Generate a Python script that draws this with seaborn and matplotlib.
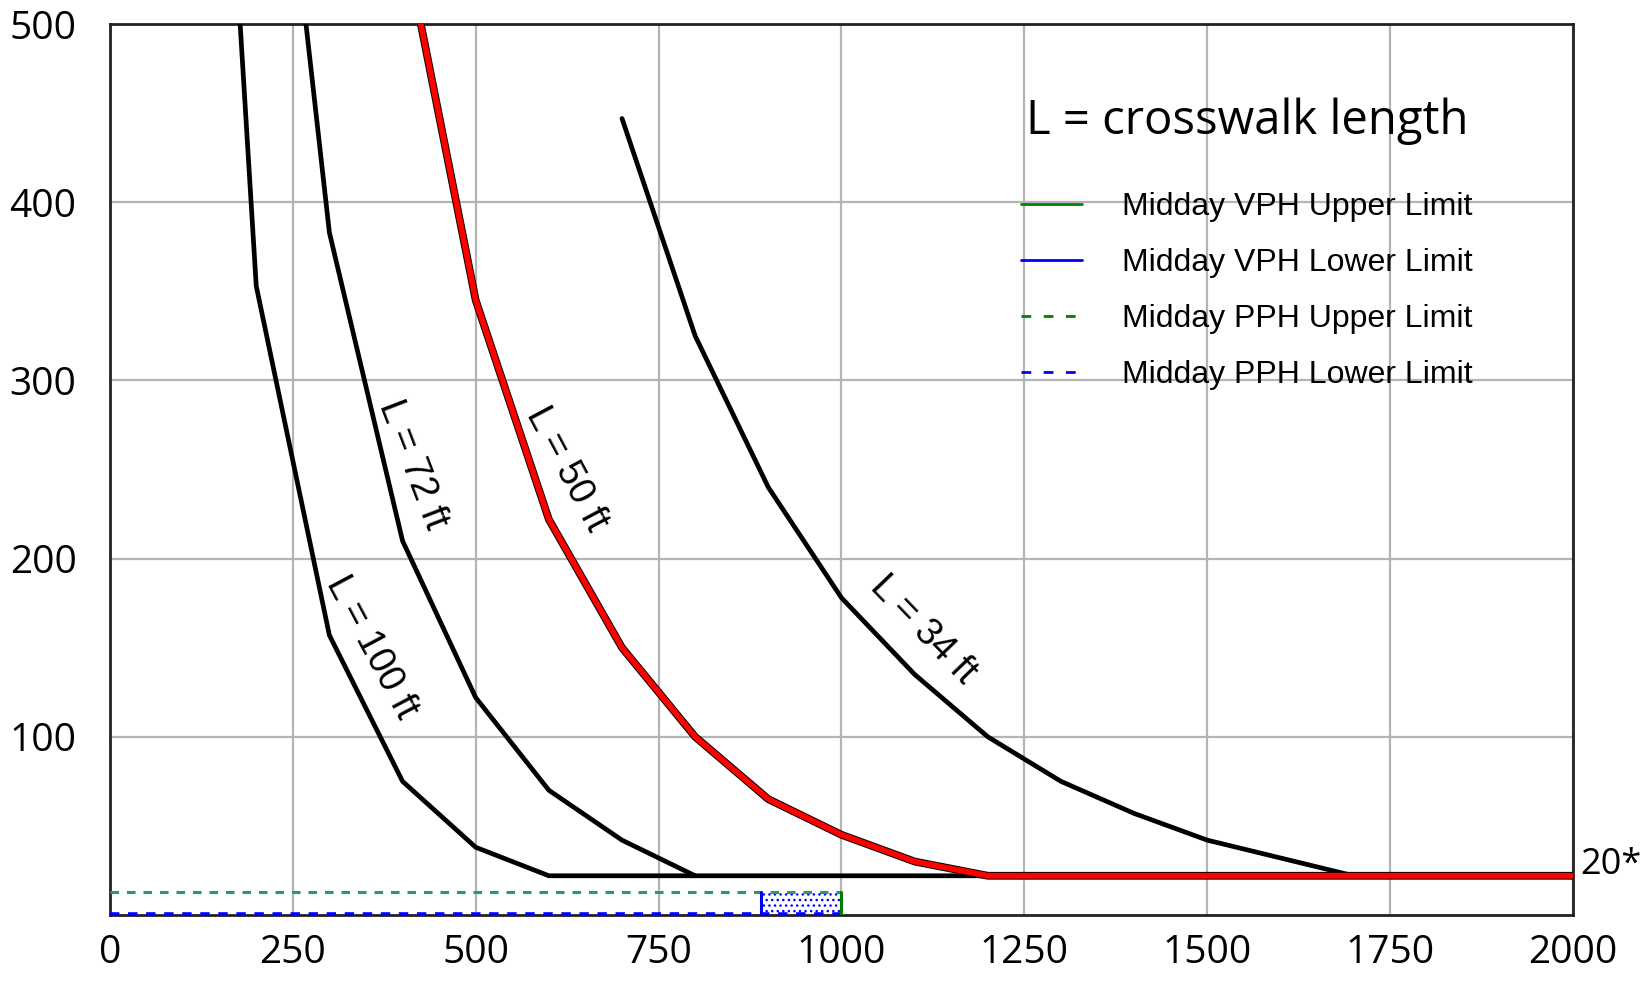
import numpy as np
import pandas as pd
import matplotlib
matplotlib.use("Agg")
import matplotlib.pyplot as plt
from matplotlib.lines import Line2D
import seaborn as sns

# curve data (pedestrians per hour vs vehicles per hour)
x_34 = [700, 800, 900, 1000, 1100, 1200, 1300, 1400, 1500, 1600, 1700, 2000]
y_34 = [447, 325, 240, 178, 135, 100, 75, 57, 42, 32, 22, 22]
x_50 = [425, 500, 600, 700, 800, 900, 1000, 1100, 1200, 2000]
y_50 = [500, 345, 222, 150, 100, 65, 45, 30, 22, 22]
x_72 = [268, 300, 400, 500, 600, 700, 800]
y_72 = [500, 383, 210, 122, 70, 42, 22]
x_100 = [178, 200, 300, 400, 500, 600, 2000]
y_100 = [500, 353, 157, 75, 38, 22, 22]

# midday limits
vph_lower = 890
vph_upper = 1000
pph_lower = 0
pph_upper = 13

curve_names = ["L = 34 ft", "L = 50 ft", "L = 72 ft", "L = 100 ft"]
legend_labels = ["Midday VPH Upper Limit", "Midday VPH Lower Limit",
                 "Midday PPH Upper Limit", "Midday PPH Lower Limit"]
x_ticks = [0, 250, 500, 750, 1000, 1250, 1500, 1750, 2000]
y_ticks = [100, 200, 300, 400, 500]

df = pd.concat([
    pd.DataFrame({"vph": x_34, "pph": y_34, "curve": curve_names[0]}),
    pd.DataFrame({"vph": x_50, "pph": y_50, "curve": curve_names[1]}),
    pd.DataFrame({"vph": x_72, "pph": y_72, "curve": curve_names[2]}),
    pd.DataFrame({"vph": x_100, "pph": y_100, "curve": curve_names[3]}),
])

sns.set_style("white")
plt.rcParams['font.family'] = ['Liberation Sans', 'DejaVu Sans']
plt.rcParams['text.color'] = 'black'
plt.rcParams['xtick.color'] = 'black'
plt.rcParams['ytick.color'] = 'black'

fig = plt.figure(figsize=(16.48, 9.81), dpi=100)
ax = fig.add_axes([0.0667, 0.0673, 0.8878, 0.9082])

ax.grid(True, color='#b4b4b4', lw=1.6)
ax.set_axisbelow(True)

# black curves
for name in ["L = 100 ft", "L = 72 ft", "L = 34 ft"]:
    sns.lineplot(data=df[df.curve == name], x="vph", y="pph", sort=False,
                 estimator=None, color='black', lw=3.4, ax=ax, zorder=3)
# red curve with black outline
sub = df[df.curve == "L = 50 ft"]
sns.lineplot(data=sub, x="vph", y="pph", sort=False, estimator=None,
             color='black', lw=5.6, ax=ax, zorder=4)
sns.lineplot(data=sub, x="vph", y="pph", sort=False, estimator=None,
             color='#ff0000', lw=4.2, ax=ax, zorder=5)

# midday limits
ax.fill_between([vph_lower, vph_upper], pph_lower, pph_upper, facecolor='white',
                edgecolor='blue', hatch='...', lw=0, zorder=2)
ax.plot([0, vph_upper], [pph_upper, pph_upper], color='#2e9a62', lw=2.2,
        ls=(0, (2.8, 2.6)), zorder=3)
ax.plot([0, vph_upper], [pph_lower + 0.8, pph_lower + 0.8], color='blue', lw=2.6,
        ls=(0, (2.6, 2.4)), zorder=3, clip_on=False)
ax.plot([vph_lower, vph_lower], [pph_lower, pph_upper], color='blue', lw=2.2, zorder=3)
ax.plot([vph_upper, vph_upper], [pph_lower, pph_upper], color='green', lw=2.2, zorder=3)

ax.set_xlim(0, 2000)
ax.set_ylim(0, 500)
ax.set_xticks(x_ticks)
ax.set_yticks(y_ticks)
ax.set_xticklabels([str(t) for t in x_ticks], family='Open Sans', fontsize=28)
ax.set_yticklabels([str(t) for t in y_ticks], family='Open Sans', fontsize=28)
ax.tick_params(axis='both', length=0, labelcolor='black')
ax.tick_params(axis='x', pad=14)
ax.tick_params(axis='y', pad=24)
ax.set_xlabel("")
ax.set_ylabel("")
for s in ax.spines.values():
    s.set_color('#222222')
    s.set_linewidth(2)

# curve labels
label_pos = {"L = 100 ft": (358, 150, -62), "L = 72 ft": (414, 253, -69),
             "L = 50 ft": (624, 250, -62), "L = 34 ft": (1112, 160, -46)}
for name, (lx, ly, rot) in label_pos.items():
    ax.text(lx, ly, name, rotation=rot, rotation_mode='anchor', ha='center',
            va='center', fontsize=27, zorder=6)

ax.text(1.005, 28, "20*", transform=ax.get_yaxis_transform(), ha='left',
        va='center', family='Open Sans', fontsize=26, clip_on=False)

handles = [
    Line2D([], [], color='green', lw=2),
    Line2D([], [], color='blue', lw=2),
    Line2D([], [], color='green', lw=2, ls=(0, (3.5, 4.5))),
    Line2D([], [], color='blue', lw=2, ls=(0, (3.5, 4.5))),
]
leg = ax.legend(handles, legend_labels, loc='upper left', bbox_to_anchor=(0.623, 0.918),
                frameon=False, fontsize=23, title="L = crosswalk length",
                handlelength=1.9, handletextpad=1.25, labelspacing=0.82,
                borderpad=0, borderaxespad=0)
leg.get_title().set_fontsize(34)
leg.get_title().set_family('Open Sans')
leg._legend_box.sep = 34
leg.set_zorder(7)

fig.savefig("out.png", dpi=100)
